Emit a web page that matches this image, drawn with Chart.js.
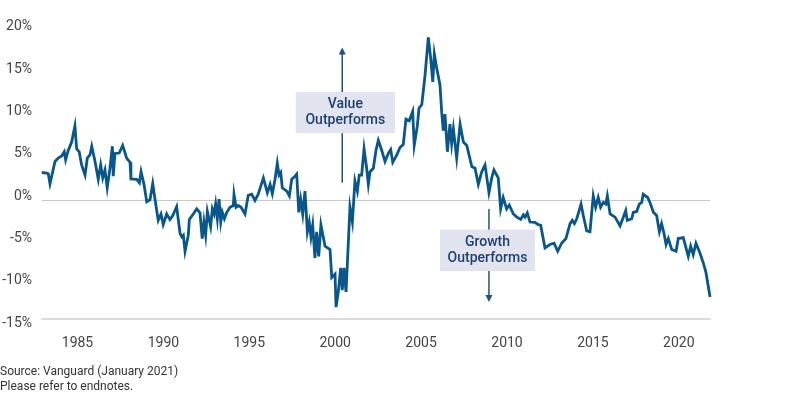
<!DOCTYPE html>
<html>
<head>
<meta charset="utf-8">
<script src="https://cdn.jsdelivr.net/npm/chart.js@4.4.1/dist/chart.umd.min.js"></script>
<style>
  body { margin: 0; background: #fff; }
  #wrap { position: relative; width: 792px; height: 408px; }
  #source { position: absolute; left: 0; top: 364px; font: 12px Roboto, sans-serif; line-height: 15px; color: #333; }
</style>
</head>
<body>
<div id="wrap">
  <canvas id="myChart" width="792" height="408"></canvas>
  <div id="source">Source: Vanguard (January 2021)<br>Please refer to endnotes.</div>
</div>
<script>
// value minus growth, trailing spread in %
const years = [
  1982.66, 1982.92, 1983.21, 1983.30, 1983.40, 1983.69, 1983.88, 1984.08, 1984.23, 1984.31,
  1984.46, 1984.66, 1984.85, 1984.95, 1985.10, 1985.24, 1985.44, 1985.57, 1985.73, 1985.83,
  1986.02, 1986.21, 1986.35, 1986.47, 1986.60, 1986.73, 1986.89, 1987.03, 1987.08, 1987.18,
  1987.43, 1987.63, 1987.86, 1988.06, 1988.11, 1988.45, 1988.60, 1988.70, 1988.87, 1989.03,
  1989.22, 1989.38, 1989.51, 1989.70, 1989.86, 1989.99, 1990.19, 1990.38, 1990.54, 1990.77,
  1990.97, 1991.07, 1991.16, 1991.26, 1991.45, 1991.51, 1991.74, 1991.94, 1992.13, 1992.26,
  1992.36, 1992.46, 1992.56, 1992.65, 1992.75, 1992.85, 1992.95, 1993.04, 1993.14, 1993.24,
  1993.34, 1993.43, 1993.55, 1993.69, 1993.88, 1994.07, 1994.11, 1994.23, 1994.36, 1994.52,
  1994.75, 1994.94, 1995.14, 1995.33, 1995.52, 1995.82, 1996.05, 1996.21, 1996.34, 1996.50,
  1996.63, 1996.73, 1996.83, 1996.92, 1997.18, 1997.33, 1997.47, 1997.66, 1997.76, 1997.88,
  1997.99, 1998.11, 1998.24, 1998.38, 1998.49, 1998.59, 1998.69, 1998.82, 1998.92, 1999.04,
  1999.17, 1999.41, 1999.70, 1999.80, 1999.99, 2000.05, 2000.18, 2000.32, 2000.41, 2000.51,
  2000.63, 2000.76, 2000.86, 2001.00, 2001.15, 2001.29, 2001.40, 2001.54, 2001.68, 2001.83,
  2001.93, 2002.03, 2002.22, 2002.38, 2002.51, 2002.71, 2002.90, 2003.09, 2003.23, 2003.35,
  2003.58, 2003.77, 2003.96, 2004.12, 2004.31, 2004.51, 2004.60, 2004.78, 2004.88, 2005.04,
  2005.23, 2005.42, 2005.56, 2005.68, 2005.77, 2005.91, 2006.10, 2006.20, 2006.29, 2006.39,
  2006.53, 2006.68, 2006.78, 2006.88, 2007.07, 2007.27, 2007.46, 2007.66, 2007.95, 2008.14,
  2008.33, 2008.53, 2008.72, 2008.95, 2009.11, 2009.24, 2009.49, 2009.63, 2009.78, 2009.98,
  2010.13, 2010.37, 2010.57, 2010.80, 2010.95, 2011.05, 2011.18, 2011.34, 2011.63, 2011.82,
  2011.96, 2012.21, 2012.50, 2012.74, 2012.95, 2013.18, 2013.43, 2013.67, 2013.80, 2013.92,
  2014.06, 2014.31, 2014.44, 2014.64, 2014.83, 2015.02, 2015.16, 2015.31, 2015.45, 2015.61,
  2015.75, 2015.84, 2016.00, 2016.29, 2016.58, 2016.77, 2016.91, 2017.00, 2017.26, 2017.35,
  2017.55, 2017.70, 2017.84, 2017.93, 2018.19, 2018.32, 2018.52, 2018.71, 2018.87, 2019.00,
  2019.14, 2019.26, 2019.39, 2019.59, 2019.84, 2019.97, 2020.26, 2020.42, 2020.55, 2020.69,
  2020.84, 2021.00, 2021.23, 2021.43, 2021.58, 2021.82
];
const spread = [
  2.35, 3.3, 3.24, 3.16, 1.97, 4.6, 5.0, 5.25, 5.75, 4.8,
  5.9, 6.9, 8.8, 6.1, 5.75, 4.2, 3.0, 5.0, 5.4, 6.4,
  4.6, 2.5, 4.2, 2.66, 3.6, 1.5, 3.8, 6.4, 2.86, 5.55,
  5.6, 6.5, 5.0, 4.5, 2.55, 2.5, 2.1, 3.4, 1.9, -0.15,
  0.08, 2.0, 0.15, -2.35, -1.6, -2.85, -1.6, -2.25, -1.8, -0.73,
  -3.9, -4.3, -4.1, -6.0, -4.1, -2.25, -1.6, -1.0, -1.47, -4.5,
  -2.55, -4.1, -1.3, -2.16, -3.1, -1.0, -1.6, -0.42, -2.16, 0.15,
  -2.55, -1.4, -2.16, -1.4, -0.8, -0.6, 0.73, -0.8, -0.6, -0.8,
  -1.6, 0.6, 0.73, 0, 0.73, 2.66, 0.9, 1.9, 0.8, 2.5,
  4.4, 3.0, 3.3, 1.5, 1.1, 0.54, 2.5, 2.86, 3.1, -1.4,
  0.15, -1.6, 1.1, -3.7, -2.55, -4.3, -2.9, -6.8, -3.7, -6.6,
  -2.9, -5.4, -5.8, -9.1, -8.7, -12.6, -10.8, -7.95, -10.6, -7.95,
  -10.8, -5.2, -0.8, -2.55, 2.3, 1.1, 3.0, 3.0, 6.1, 3.8,
  1.9, 3.4, 3.8, 6.0, 7.1, 5.9, 4.6, 5.55, 6.0, 4.5,
  5.36, 6.25, 6.6, 9.6, 9.4, 10.5, 6.5, 8.8, 10.9, 11.3,
  14.8, 19.25, 16.75, 14.0, 17.3, 15.6, 13.65, 10.4, 8.25, 10.2,
  5.75, 9.0, 6.7, 8.45, 5.0, 9.0, 6.9, 6.5, 4.0, 3.8,
  1.9, 3.4, 4.2, 0.93, 2.66, 3.6, 2.66, -1.0, 0.35, -1.0,
  -0.54, -1.6, -1.97, -2.23, -1.7, -1.97, -1.47, -2.55, -2.6, -2.86,
  -2.93, -5.6, -5.2, -5.05, -6.0, -5.05, -4.5, -2.74, -2.35, -2.74,
  -2.16, -0.43, -1.77, -3.6, -3.7, 0.54, -0.8, 0.35, -0.8, -0.23,
  -0.43, 0.54, -1.6, -1.97, -3.0, -1.97, -1.2, -2.35, -2.16, -1.4,
  -1.3, -0.43, -0.23, 0.73, 0.35, -0.23, -1.4, -1.77, -3.7, -2.74,
  -3.9, -5.2, -4.5, -5.8, -6.0, -4.5, -4.4, -5.6, -6.6, -5.4,
  -6.4, -5.05, -6.2, -7.4, -8.5, -11.4
];
const yTicks = [-15, -10, -5, 0, 5, 10, 15, 20];
const xTicks = [1985, 1990, 1995, 2000, 2005, 2010, 2015, 2020];

// callouts, placed in data units
const callouts = [
  { lines: ['Value', 'Outperforms'], arrowX: 2000.41, from: 2.08, to: 18.06, box: [1997.70, 2003.48, 12.81, 7.95] },
  { lines: ['Growth', 'Outperforms'], arrowX: 2008.95, from: -1.01, to: -12.0, box: [2006.10, 2011.63, -3.44, -8.33] }
];

const calloutPlugin = {
  id: 'callouts',
  beforeDatasetsDraw(chart) {
    const { ctx, scales: { x, y } } = chart;
    callouts.forEach((c) => {
      const ax = x.getPixelForValue(c.arrowX);
      const y0 = y.getPixelForValue(c.from);
      const y1 = y.getPixelForValue(c.to);
      const dir = y1 < y0 ? 1 : -1;
      ctx.save();
      ctx.strokeStyle = '#24507e';
      ctx.fillStyle = '#24507e';
      ctx.lineWidth = 1.5;
      ctx.beginPath();
      ctx.moveTo(ax, y0);
      ctx.lineTo(ax, y1 + dir * 5);
      ctx.stroke();
      ctx.beginPath();
      ctx.moveTo(ax, y1);
      ctx.lineTo(ax - 3.5, y1 + dir * 7);
      ctx.lineTo(ax + 3.5, y1 + dir * 7);
      ctx.closePath();
      ctx.fill();

      const bx0 = x.getPixelForValue(c.box[0]);
      const bx1 = x.getPixelForValue(c.box[1]);
      const by0 = y.getPixelForValue(c.box[2]);
      const by1 = y.getPixelForValue(c.box[3]);
      ctx.fillStyle = '#e1e4ef';
      ctx.fillRect(bx0, by0, bx1 - bx0, by1 - by0);

      ctx.fillStyle = '#1f3f6f';
      ctx.font = '500 14px Roboto';
      ctx.textAlign = 'center';
      ctx.textBaseline = 'middle';
      const cx = (bx0 + bx1) / 2;
      const cy = (by0 + by1) / 2;
      ctx.fillText(c.lines[0], cx, cy - 8);
      ctx.fillText(c.lines[1], cx, cy + 8);
      ctx.restore();
    });
  }
};

Chart.defaults.font.family = 'Roboto';

new Chart(document.getElementById('myChart'), {
  type: 'line',
  data: {
    datasets: [
      {
        data: years.map((yr, i) => ({ x: yr, y: spread[i] })),
        borderColor: '#08568a',
        borderWidth: 2.8,
        pointRadius: 0,
        tension: 0,
        fill: false,
        clip: false,
      },
    ],
  },
  options: {
    responsive: false,
    animation: false,
    layout: { padding: { top: 12.24, right: 82, bottom: 49, left: 0 } },
    plugins: { legend: { display: false }, tooltip: { enabled: false } },
    scales: {
      x: {
        type: 'linear',
        min: 1982.934,
        max: 2021.816,
        afterBuildTicks: (s) => { s.ticks = xTicks.map((v) => ({ value: v })); },
        afterFit: (s) => { s.height = 40; },
        grid: { display: false, drawTicks: false },
        border: { display: true, color: '#dcdcdc', width: 2 },
        ticks: { color: '#444', font: { size: 14 }, padding: 16, maxRotation: 0, autoSkip: false, callback: (v) => String(v) },
      },
      y: {
        min: -14,
        max: 21.5,
        afterBuildTicks: (s) => { s.ticks = yTicks.map((v) => ({ value: v })); },
        afterFit: (s) => { s.width = 42; },
        grid: {
          drawTicks: false,
          color: (c) => (c.tick && c.tick.value === 0 ? '#c8c8c8' : 'rgba(0,0,0,0)'),
        },
        border: { display: false },
        ticks: { color: '#444', font: { size: 14 }, padding: 10, labelOffset: -4.4, autoSkip: false, callback: (v) => v + '%' },
      },
    },
  },
  plugins: [calloutPlugin],
});
</script>
</body>
</html>
